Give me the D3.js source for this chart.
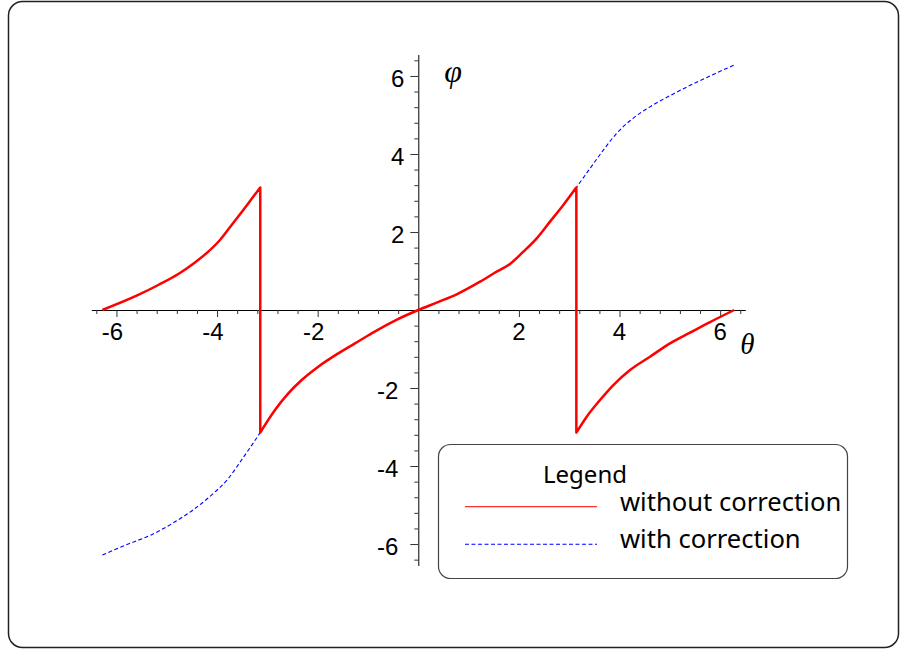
<!DOCTYPE html>
<html>
<head>
<meta charset="utf-8">
<script src="https://cdn.jsdelivr.net/npm/d3@7"></script>
<style>
  html, body { margin: 0; padding: 0; background: #fff; }
  svg { display: block; }
</style>
</head>
<body>
<svg id="chart" width="902" height="650"></svg>
<script>
// phase angle phi(theta), principal branch (wrapped into (-pi, pi])
const thetaWithout = [-6.28, -5.567, -5.169, -4.771, -4.439, -4.175, -3.942, -3.710, -3.479, -3.313, -3.1416,
  -3.1416, -2.849, -2.584, -2.318, -1.988, -1.590, -1.258, -0.927, -0.463, 0, 0.365, 0.763, 1.227, 1.558,
  1.823, 2.088, 2.354, 2.618, 2.883, 3.1416,
  3.1416, 3.348, 3.612, 3.877, 4.209, 4.606, 5.004, 5.402, 5.799, 6.28];
const phiWithout = [0, 0.385, 0.641, 0.923, 1.22, 1.496, 1.795, 2.18, 2.564, 2.85, 3.1416,
  -3.1416, -2.564, -2.137, -1.795, -1.453, -1.111, -0.855, -0.598, -0.27, 0, 0.19, 0.402, 0.726, 0.983,
  1.18, 1.496, 1.838, 2.265, 2.692, 3.1416,
  -3.1416, -2.735, -2.308, -1.923, -1.538, -1.197, -0.855, -0.58, -0.31, 0];

// continuous phase after adding the 2*pi correction
const thetaWith = [-6.28, -5.765, -5.3, -4.837, -4.439, -4.107, -3.777, -3.511, -3.313, -3.1416,
  -2.849, -2.584, -2.318, -1.988, -1.590, -1.258, -0.927, -0.463, 0, 0.365, 0.763, 1.227, 1.558,
  1.823, 2.088, 2.354, 2.618, 2.883, 3.1416,
  3.414, 3.678, 3.944, 4.274, 4.672, 5.07, 5.467, 5.865, 6.28];
const phiWith = [-6.28, -6.0, -5.76, -5.43, -5.09, -4.74, -4.32, -3.84, -3.47, -3.1416,
  -2.564, -2.137, -1.795, -1.453, -1.111, -0.855, -0.598, -0.27, 0, 0.19, 0.402, 0.726, 0.983,
  1.18, 1.496, 1.838, 2.265, 2.692, 3.1416,
  3.63, 4.10, 4.53, 4.92, 5.26, 5.54, 5.80, 6.04, 6.28];

const xTickValues = [-6, -4, -2, 2, 4, 6];
const yTickValues = [-6, -4, -2, 2, 4, 6];
const legendLabels = ["without correction", "with correction"];

const svg = d3.select("#chart");

// outer frame
svg.append("rect")
  .attr("x", 8.5).attr("y", 1.5).attr("width", 890).attr("height", 646)
  .attr("rx", 14).attr("ry", 14)
  .attr("fill", "#fff").attr("stroke", "#222").attr("stroke-width", 1.5);

const x = d3.scaleLinear().domain([-6.5, 6.5]).range([91.3, 745.3]);
const y = d3.scaleLinear().domain([-6.55, 6.55]).range([565.5, 54.5]);

// minor ticks every 0.4, skipping the labelled ones
const minorTicks = d3.range(-16, 17).map(k => k * 0.4)
  .filter(v => Math.abs(v) > 1e-9 && Math.abs(v / 2 - Math.round(v / 2)) > 1e-6);

// x axis (through phi = 0)
const gx = svg.append("g").attr("transform", `translate(0,${y(0)})`);
gx.call(d3.axisBottom(x).tickValues(minorTicks).tickSize(4).tickSizeOuter(0).tickFormat(""));
gx.append("g").call(d3.axisBottom(x).tickValues(xTickValues).tickSize(7).tickSizeOuter(0).tickFormat(""))
  .select(".domain").remove();
gx.selectAll(".domain").attr("stroke", "#000");
gx.selectAll(".tick line").attr("stroke", "#333");

// y axis (through theta = 0)
const gy = svg.append("g").attr("transform", `translate(${x(0)},0)`);
gy.call(d3.axisLeft(y).tickValues(minorTicks).tickSize(4).tickSizeOuter(0).tickFormat(""));
gy.append("g").call(d3.axisLeft(y).tickValues(yTickValues).tickSize(8).tickSizeOuter(0).tickFormat(""))
  .select(".domain").remove();
gy.selectAll(".domain").attr("stroke", "#000");
gy.selectAll(".tick line").attr("stroke", "#333");

const tickFont = "'Liberation Sans', Arial, sans-serif";
const fmt = d => d3.format("d")(d).replace("−", "-");

// x tick labels: digit centred under the tick, minus sign hanging left
svg.append("g").selectAll("text").data(xTickValues).join("text")
  .attr("x", d => x(d) + 6.6)
  .attr("y", y(0) + 30)
  .attr("text-anchor", "end")
  .attr("font-family", tickFont).attr("font-size", 24)
  .text(fmt);

// y tick labels
svg.append("g").selectAll("text").data(yTickValues).join("text")
  .attr("x", d => d > 0 ? x(0) - 14 : x(0) - 20)
  .attr("y", d => y(d) + 11)
  .attr("text-anchor", "end")
  .attr("font-family", tickFont).attr("font-size", 24)
  .text(fmt);

// axis titles
const serif = "'Liberation Serif', 'Times New Roman', serif";
svg.append("text").attr("x", x(0) + 26).attr("y", y(6) + 6)
  .attr("font-family", serif)
  .attr("font-style", "italic").attr("font-size", 32).text("φ");
svg.append("text").attr("x", x(6.4)).attr("y", y(0) + 44)
  .attr("font-family", serif)
  .attr("font-style", "italic").attr("font-size", 29).text("θ");

// smooth each continuous branch; jumps (repeated theta) become vertical strokes
function branchPath(thetas, phis) {
  const pts = d3.zip(thetas, phis);
  const branches = [[pts[0]]];
  for (let i = 1; i < pts.length; i++) {
    if (pts[i][0] === pts[i - 1][0]) branches.push([]);
    branches[branches.length - 1].push(pts[i]);
  }
  const ln = d3.line().x(d => x(d[0])).y(d => y(d[1])).curve(d3.curveMonotoneX);
  return branches.map((b, i) => {
    const d = ln(b);
    return i === 0 ? d : "L" + d.slice(1);
  }).join("");
}

// corrected (continuous) phase, dashed blue
svg.append("path")
  .attr("d", branchPath(thetaWith, phiWith))
  .attr("fill", "none").attr("stroke", "#0000ff").attr("stroke-width", 1.1)
  .attr("stroke-dasharray", "4,2.5");

// uncorrected phase, solid red
svg.append("path")
  .attr("d", branchPath(thetaWithout, phiWithout))
  .attr("fill", "none").attr("stroke", "#ff0000").attr("stroke-width", 2.5)
  .attr("stroke-linejoin", "round");

// legend
const legendFont = "'Comic Sans MS', 'Noto Sans', sans-serif";
const lg = svg.append("g");
lg.append("rect")
  .attr("x", 438.5).attr("y", 444.5).attr("width", 409).attr("height", 134)
  .attr("rx", 12).attr("ry", 12)
  .attr("fill", "#fff").attr("stroke", "#444").attr("stroke-width", 1.2);
lg.append("text").attr("x", 543).attr("y", 482.5)
  .attr("font-family", legendFont).attr("font-size", 24).text("Legend");
lg.append("line").attr("x1", 465).attr("x2", 597).attr("y1", 506.7).attr("y2", 506.7)
  .attr("stroke", "#ff3030").attr("stroke-width", 1.3);
lg.append("line").attr("x1", 465).attr("x2", 597).attr("y1", 544.3).attr("y2", 544.3)
  .attr("stroke", "#0000ff").attr("stroke-width", 1.1).attr("stroke-dasharray", "4,2.5");
lg.append("text").attr("x", 620).attr("y", 511)
  .attr("font-family", legendFont).attr("font-size", 25.6).text(legendLabels[0]);
lg.append("text").attr("x", 620).attr("y", 548.3)
  .attr("font-family", legendFont).attr("font-size", 25.6).text(legendLabels[1]);
</script>
</body>
</html>
